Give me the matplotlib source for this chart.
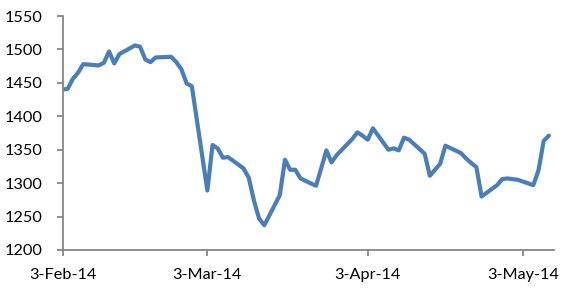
import matplotlib
matplotlib.use("Agg")
import matplotlib.pyplot as plt
import pandas as pd

dates = [
    "2014-02-03", "2014-02-04", "2014-02-05", "2014-02-06", "2014-02-07",
    "2014-02-10", "2014-02-11", "2014-02-12", "2014-02-13", "2014-02-14",
    "2014-02-17", "2014-02-18", "2014-02-19", "2014-02-20", "2014-02-21",
    "2014-02-24", "2014-02-25", "2014-02-26", "2014-02-27", "2014-02-28",
    "2014-03-03", "2014-03-04", "2014-03-05", "2014-03-06", "2014-03-07",
    "2014-03-10", "2014-03-11", "2014-03-12", "2014-03-13", "2014-03-14",
    "2014-03-17", "2014-03-18", "2014-03-19", "2014-03-20", "2014-03-21",
    "2014-03-24", "2014-03-25", "2014-03-26", "2014-03-27", "2014-03-28",
    "2014-03-31", "2014-04-01", "2014-04-02", "2014-04-03", "2014-04-04",
    "2014-04-07", "2014-04-08", "2014-04-09", "2014-04-10", "2014-04-11",
    "2014-04-14", "2014-04-15", "2014-04-16", "2014-04-17", "2014-04-18",
    "2014-04-21", "2014-04-22", "2014-04-23", "2014-04-24", "2014-04-25",
    "2014-04-28", "2014-04-29", "2014-04-30", "2014-05-01", "2014-05-02",
    "2014-05-05", "2014-05-06", "2014-05-07", "2014-05-08",
]
values = [
    1440, 1441, 1456, 1465, 1478,
    1476, 1480, 1497, 1479, 1493,
    1506, 1504, 1485, 1481, 1488,
    1489, 1481, 1470, 1449, 1445,
    1289, 1357, 1352, 1338, 1339,
    1322, 1308, 1274, 1247, 1237,
    1282, 1335, 1320, 1320, 1307,
    1296, 1322, 1349, 1331, 1342,
    1366, 1376, 1371, 1365, 1382,
    1350, 1352, 1349, 1368, 1365,
    1344, 1311, 1320, 1329, 1356,
    1345, 1337, 1330, 1324, 1280,
    1297, 1306, 1307, 1306, 1305,
    1297, 1319, 1363, 1371,
]
tick_dates = ["2014-02-03", "2014-03-03", "2014-04-03", "2014-05-03"]
tick_labels = ["3-Feb-14", "3-Mar-14", "3-Apr-14", "3-May-14"]
y_ticks = [1200, 1250, 1300, 1350, 1400, 1450, 1500, 1550]

x = pd.to_datetime(dates)

plt.rcParams['font.family'] = ['Lato', 'DejaVu Sans']
fig = plt.figure(figsize=(5.71, 2.99), dpi=100)
ax = fig.add_axes([62.5/571, 1-250/299, (554-62.5)/571, (250-16)/299])

ax.plot(x, values, color="#4A7EBB", lw=3.0, solid_joinstyle="round", solid_capstyle="round")

ax.set_xlim(pd.Timestamp("2014-02-03"), pd.Timestamp("2014-05-09"))
ax.set_ylim(1200, 1550)
ax.set_yticks(y_ticks)
ax.set_yticklabels([str(v) for v in y_ticks])
ax.set_xticks(pd.to_datetime(tick_dates))
ax.set_xticklabels(tick_labels)

for s in ["top", "right"]:
    ax.spines[s].set_visible(False)
for s in ["left", "bottom"]:
    ax.spines[s].set_color("#868686")
    ax.spines[s].set_linewidth(1.3)
ax.tick_params(axis="both", colors="#868686", length=4, width=1.3, direction="out",
               labelcolor="black", labelsize=11.7)
ax.tick_params(axis="x", pad=9)
ax.tick_params(axis="y", pad=10)

fig.savefig("out.png", dpi=100)
